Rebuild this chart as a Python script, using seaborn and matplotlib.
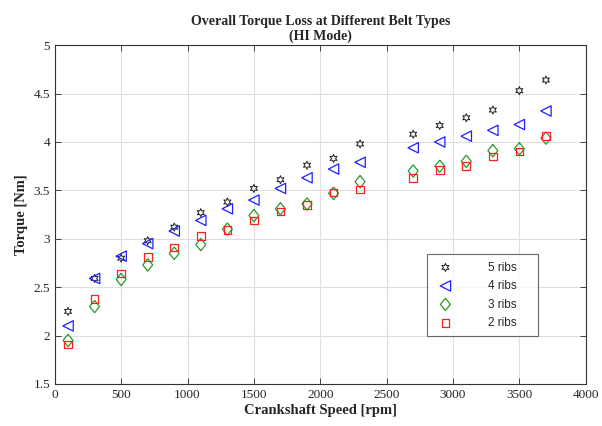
import numpy as np
import pandas as pd
import matplotlib
matplotlib.use("Agg")
import matplotlib.pyplot as plt
import seaborn as sns

# Crankshaft speed [rpm]
speed = [100, 300, 500, 700, 900, 1100, 1300, 1500, 1700, 1900, 2100, 2300,
         2700, 2900, 3100, 3300, 3500, 3700]

# Torque [Nm] per belt type
ribs5 = [2.25, 2.59, 2.80, 2.98, 3.12, 3.27, 3.38, 3.52, 3.61, 3.76, 3.83, 3.98,
         4.08, 4.17, 4.25, 4.33, 4.53, 4.64]
ribs4 = [2.10, 2.59, 2.82, 2.95, 3.08, 3.19, 3.31, 3.40, 3.52, 3.63, 3.72, 3.79,
         3.94, 4.00, 4.06, 4.12, 4.18, 4.32]
ribs3 = [1.95, 2.30, 2.58, 2.73, 2.85, 2.94, 3.10, 3.24, 3.31, 3.36, 3.47, 3.59,
         3.70, 3.75, 3.80, 3.91, 3.93, 4.04]
ribs2 = [1.91, 2.38, 2.64, 2.81, 2.91, 3.03, 3.09, 3.19, 3.28, 3.35, 3.48, 3.51,
         3.63, 3.71, 3.75, 3.85, 3.90, 4.06]

labels = ["5 ribs", "4 ribs", "3 ribs", "2 ribs"]
colors = ["#222222", "#1f1fff", "#2a9a2a", "#ff1f1f"]
diamond = [(0, 1), (0.8, 0), (0, -1), (-0.8, 0), (0, 1)]
markers = [(6, 1, 0), "<", diamond, "s"]
sizes = [34, 56, 80, 30]
widths = [0.7, 0.9, 0.9, 0.9]

sns.set_style("whitegrid")
plt.rcParams["font.family"] = ["Liberation Serif", "DejaVu Serif"]

fig = plt.figure(figsize=(6.02, 4.26), dpi=100)
ax = fig.add_axes([0.091, 0.0986, 0.882, 0.7954])

for lab, vals, c, m, s, w in zip(labels, [ribs5, ribs4, ribs3, ribs2], colors, markers, sizes, widths):
    df = pd.DataFrame({"speed": speed, "torque": vals})
    sns.scatterplot(data=df, x="speed", y="torque", marker=m, s=s,
                    facecolors="none", edgecolors=c, linewidth=w,
                    label=lab, ax=ax, zorder=3)

ax.set_xlim(0, 4000)
ax.set_ylim(1.5, 5)
ax.set_xticks(np.arange(0, 4001, 500))
ax.set_yticks(np.arange(1.5, 5.01, 0.5))
ax.set_yticklabels(["1.5", "2", "2.5", "3", "3.5", "4", "4.5", "5"])
ax.grid(True, color="#dedede", linewidth=0.8)
for sp in ax.spines.values():
    sp.set_color("#333333")
    sp.set_linewidth(0.8)
ax.tick_params(direction="in", length=4, width=0.6, colors="#262626",
               labelsize=9.5, top=True, right=True, bottom=True, left=True)

ax.set_xlabel("Crankshaft Speed [rpm]", fontsize=10.5, fontweight="bold", labelpad=2)
ax.set_ylabel("Torque [Nm]", fontsize=10.5, fontweight="bold", labelpad=4)
ax.set_title("Overall Torque Loss at Different Belt Types\n(HI Mode)",
             fontsize=10, fontweight="bold", linespacing=1.1, pad=4)

leg = ax.legend(loc="lower left", bbox_to_anchor=(0.689, 0.124, 0.232, 0.227),
                mode="expand", frameon=True, fancybox=False,
                prop={"family": "Liberation Sans", "size": 8.5},
                handletextpad=2.6, labelspacing=0.55, borderpad=0.6)
leg.get_frame().set_edgecolor("#444444")
leg.get_frame().set_linewidth(0.8)

fig.savefig("out.png", dpi=100)
